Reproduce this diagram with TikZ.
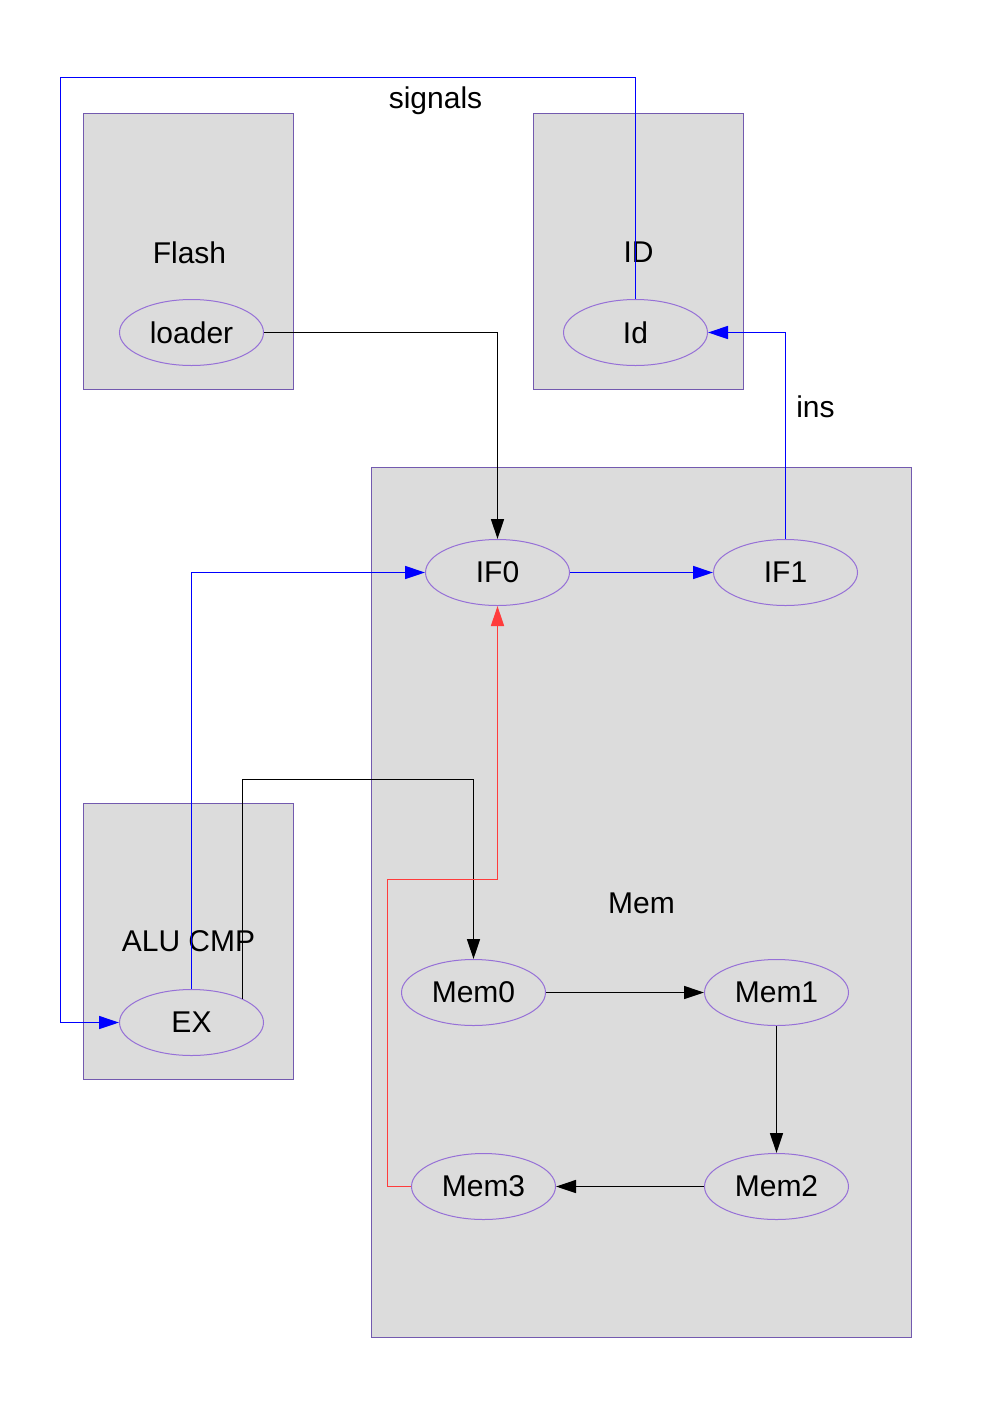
\documentclass[tikz,border=0pt]{standalone}
\usepackage{fontspec}
\setmainfont{Liberation Sans}
\usetikzlibrary{shapes.geometric,arrows.meta}
\definecolor{boxfill}{RGB}{220,220,220}
\definecolor{boxline}{RGB}{115,90,175}
\definecolor{nodeline}{RGB}{150,112,215}
\definecolor{sigblue}{RGB}{0,0,255}
\definecolor{sigred}{RGB}{255,60,60}
\tikzset{
  cluster/.style={draw=boxline, fill=boxfill, line width=1pt},
  clabel/.style={inner sep=0pt, font=\fontsize{30}{36}\selectfont},
  unit/.style={ellipse, draw=nodeline, line width=1pt, minimum width=144pt,
    minimum height=66pt, inner sep=0pt, font=\fontsize{30}{36}\selectfont},
  link/.style={line width=1.4pt, -{Triangle[length=20pt,width=13pt]}},
  elabel/.style={inner sep=0pt, font=\fontsize{30}{36}\selectfont}
}
\begin{document}
\begin{tikzpicture}[x=1pt,y=-1pt]
  \useasboundingbox (0,0) rectangle (992,1403);
  \begin{scope}[shift={(0.5,0.5)}]
  % clusters
  \draw[cluster] (83,113) rectangle (293,389);
  \draw[cluster] (533,113) rectangle (743,389);
  \draw[cluster] (371,467) rectangle (911,1337);
  \draw[cluster] (83,803) rectangle (293,1079);
  \node[clabel] (flashlbl) at (189,252) {Flash};
  \node[clabel] (idlbl) at (638,252) {ID};
  \node[clabel] (memlbl) at (641,903) {Mem};
  \node[clabel] (alulbl) at (188,941) {ALU CMP};
  % units
  \node[unit] (loader) at (191,332) {loader};
  \node[unit] (Id) at (635,332) {Id};
  \node[unit] (IF0) at (497,572) {IF0};
  \node[unit] (IF1) at (785,572) {IF1};
  \node[unit] (Mem0) at (473,992) {Mem0};
  \node[unit] (Mem1) at (776,992) {Mem1};
  \node[unit] (Mem2) at (776,1186) {Mem2};
  \node[unit] (Mem3) at (483,1186) {Mem3};
  \node[unit] (EX) at (191,1022) {EX};
  % bend points
  \coordinate (sigtop) at (60,77);
  \coordinate (exbend) at (473,779);
  \coordinate (redbend) at (387,879);
  % connectors
  \draw[link, color=sigblue] (Id.north) |- (sigtop) |- (EX.west);
  \node[elabel] (signals) at (435,100) {signals};
  \draw[link, color=black] (loader.east) -| (IF0.north);
  \draw[link, color=sigblue] (IF1.north) |- (Id.east);
  \node[elabel] (ins) at (815,406) {ins};
  \draw[link, color=sigblue] (IF0) -- (IF1);
  \draw[link, color=sigblue] (EX.north) |- (IF0.west);
  \draw[link, color=black] (EX.25) |- (exbend) -- (Mem0.north);
  \draw[link, color=sigred] (Mem3.west) -| (redbend) -| (IF0.south);
  \draw[link, color=black] (Mem0) -- (Mem1);
  \draw[link, color=black] (Mem1) -- (Mem2);
  \draw[link, color=black] (Mem2) -- (Mem3);
  \end{scope}
\end{tikzpicture}
\end{document}
